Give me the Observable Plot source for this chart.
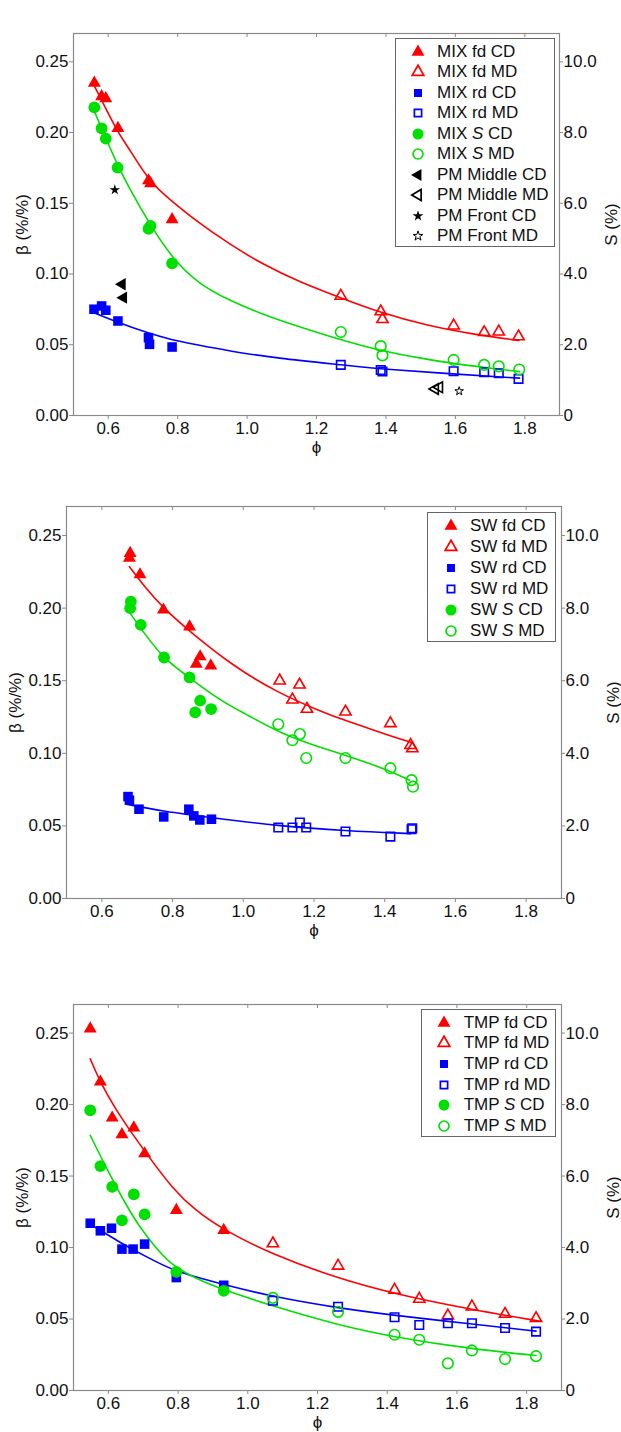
<!DOCTYPE html>
<html>
<head>
<meta charset="utf-8">
<script src="https://cdn.jsdelivr.net/npm/d3@7"></script>
<script src="https://cdn.jsdelivr.net/npm/@observablehq/plot@0.6"></script>
<style>
  html, body { margin: 0; padding: 0; background: #fff; }
  body { font-family: "Liberation Sans", Arial, sans-serif; }
  #root { position: relative; width: 621px; height: 1432px; overflow: hidden; }
  .panel { position: absolute; left: 0; }
  .legend { position: absolute; box-sizing: border-box; border: 1px solid #666; background: #fff; }
  .legend .row { position: absolute; left: 0; height: 20px; line-height: 20px; white-space: nowrap; font-size: 17px; color: #111; }
  .legend svg { position: absolute; top: 0; }
  .legend span { position: absolute; top: 0; }
</style>
</head>
<body>
<div id="root"></div>
<script>
// ---------- axis ticks ----------
const xTicks = [0.6, 0.8, 1.0, 1.2, 1.4, 1.6, 1.8];
const yTicks = [0, 0.05, 0.10, 0.15, 0.20, 0.25];

// ---------- Panel 1 : MIX  ([phi, beta] ; S series as [phi, S%]) ----------
const mixFdCD = [[0.560,0.235],[0.581,0.2255],[0.593,0.224],[0.628,0.203],[0.716,0.166],[0.722,0.164],[0.784,0.1385]];
const mixFdMD = [[1.270,0.0845],[1.385,0.0735],[1.390,0.068],[1.595,0.0635],[1.683,0.0588],[1.725,0.0592],[1.782,0.0558]];
const mixRdCD = [[0.559,0.0751],[0.581,0.0774],[0.593,0.0744],[0.628,0.0668],[0.716,0.055],[0.719,0.0503],[0.784,0.0484]];
const mixRdMD = [[1.270,0.0358],[1.385,0.0322],[1.390,0.0311],[1.595,0.0313],[1.683,0.0306],[1.725,0.0299],[1.782,0.0259]];
const mixSCD  = [[0.560,8.71],[0.581,8.12],[0.593,7.83],[0.627,7.01],[0.716,5.28],[0.722,5.36],[0.784,4.30]];
const mixSMD  = [[1.270,2.36],[1.385,1.96],[1.390,1.70],[1.595,1.57],[1.683,1.43],[1.725,1.39],[1.784,1.30]];
const pmMidCD   = [[0.640,0.0928],[0.644,0.0833]];
const pmMidMD   = [[1.542,0.0188],[1.554,0.0200]];
const pmFrontCD = [[0.619,0.1595]];
const pmFrontMD = [[1.611,0.0172]];
const mixFdFit = [[0.56,0.233],[0.593,0.217],[0.628,0.200],[0.662,0.188],[0.719,0.165],[0.781,0.152],[0.853,0.1376],[0.95,0.121],[1.044,0.107],[1.15,0.0945],[1.268,0.0833],[1.383,0.0727],[1.521,0.0633],[1.65,0.0575],[1.783,0.053]];
const mixRdFit = [[0.556,0.0729],[0.626,0.0659],[0.71,0.0586],[0.783,0.0534],[0.85,0.0502],[0.95,0.0455],[1.086,0.0405],[1.272,0.0358],[1.39,0.0327],[1.596,0.0294],[1.785,0.0264]];
const mixSFit  = [[0.56,8.6],[0.593,7.84],[0.627,7.08],[0.662,6.4],[0.719,5.42],[0.783,4.46],[0.86,3.72],[0.948,3.26],[1.04,2.88],[1.14,2.54],[1.268,2.14],[1.385,1.83],[1.5,1.62],[1.6,1.46],[1.7,1.34],[1.785,1.24]];

// ---------- Panel 2 : SW ----------
const swFdCD = [[0.678,0.2346],[0.680,0.2378],[0.708,0.2231],[0.774,0.1988],[0.848,0.1872],[0.867,0.1615],[0.878,0.1666],[0.908,0.1603]];
const swFdMD = [[1.103,0.150],[1.139,0.1369],[1.159,0.1472],[1.180,0.1305],[1.289,0.1286],[1.416,0.1206],[1.473,0.1056],[1.478,0.1033]];
const swRdCD = [[0.674,0.0702],[0.678,0.0677],[0.705,0.0615],[0.775,0.0562],[0.846,0.0615],[0.860,0.0569],[0.877,0.0541],[0.910,0.0546]];
const swRdMD = [[1.099,0.0489],[1.139,0.0489],[1.160,0.0523],[1.178,0.0489],[1.289,0.0461],[1.416,0.0426],[1.476,0.0477],[1.478,0.0484]];
const swSCD  = [[0.682,8.18],[0.680,8.00],[0.710,7.54],[0.776,6.64],[0.848,6.09],[0.878,5.45],[0.864,5.13],[0.909,5.22]];
const swSMD  = [[1.099,4.80],[1.139,4.36],[1.160,4.53],[1.178,3.87],[1.289,3.87],[1.416,3.59],[1.476,3.26],[1.480,3.08]];
const swFdFit = [[0.678,0.2286],[0.72,0.215],[0.774,0.200],[0.848,0.184],[0.972,0.160],[1.095,0.142],[1.218,0.129],[1.289,0.1225],[1.416,0.112],[1.475,0.1075]];
const swRdFit = [[0.669,0.065],[0.775,0.0599],[0.910,0.0557],[1.099,0.050],[1.289,0.0466],[1.473,0.0447]];
const swSFit  = [[0.680,7.86],[0.72,7.3],[0.776,6.6],[0.848,6.08],[0.937,5.44],[1.0,5.12],[1.097,4.6],[1.175,4.3],[1.285,3.96],[1.411,3.54],[1.47,3.26]];

// ---------- Panel 3 : TMP ----------
const tmpFdCD = [[0.548,0.2531],[0.577,0.2159],[0.611,0.1907],[0.639,0.1791],[0.673,0.1838],[0.704,0.1657],[0.795,0.1261],[0.931,0.1121]];
const tmpFdMD = [[1.072,0.1028],[1.259,0.0872],[1.421,0.0703],[1.492,0.064],[1.574,0.0523],[1.643,0.0586],[1.738,0.0535],[1.827,0.0505]];
const tmpRdCD = [[0.548,0.117],[0.577,0.1117],[0.609,0.1135],[0.639,0.0989],[0.671,0.0989],[0.704,0.1024],[0.795,0.079],[0.931,0.0736]];
const tmpRdMD = [[1.072,0.0628],[1.259,0.0586],[1.421,0.0512],[1.492,0.0458],[1.574,0.047],[1.643,0.047],[1.738,0.0437],[1.827,0.0412]];
const tmpSCD  = [[0.548,7.84],[0.577,6.28],[0.611,5.70],[0.639,4.76],[0.673,5.49],[0.704,4.93],[0.795,3.32],[0.931,2.79]];
const tmpSMD  = [[1.072,2.59],[1.259,2.20],[1.421,1.56],[1.492,1.42],[1.574,0.76],[1.643,1.12],[1.738,0.88],[1.827,0.96]];
const tmpFdFit = [[0.548,0.232],[0.577,0.2155],[0.62,0.197],[0.666,0.1805],[0.704,0.1675],[0.786,0.1405],[0.85,0.126],[0.929,0.1125],[1.072,0.095],[1.259,0.0784],[1.421,0.0675],[1.643,0.0565],[1.84,0.0484]];
const tmpRdFit = [[0.548,0.1163],[0.594,0.1095],[0.634,0.1035],[0.671,0.0985],[0.705,0.0942],[0.786,0.0835],[0.929,0.0742],[1.072,0.0656],[1.259,0.0577],[1.421,0.0525],[1.643,0.0465],[1.827,0.0415]];
const tmpSFit  = [[0.548,7.14],[0.594,6.23],[0.642,5.34],[0.69,4.56],[0.74,3.94],[0.786,3.48],[0.85,3.14],[0.929,2.82],[1.072,2.36],[1.259,1.83],[1.421,1.49],[1.643,1.16],[1.827,0.98]];

// ---------- styling ----------
const RED = "#ff0000", BLUE = "#0000ff", GREEN = "#00e000", BLACK = "#000000";
const AXIS = "#8a8a8a", TEXT = "#111111";
const FONT = "'Liberation Sans', Arial, sans-serif";
const S_PER_BETA = 40; // right axis: S (%) = 40 x beta

const SYM = {
  triUp:   {symbol: "triangle", r: 4.8, sw: 1.6},
  triLeft: {symbol: "triangle", r: 4.6, rotate: -90, sw: 1.6},
  square:  {symbol: "square",   r: 5.4, sw: 1.6},
  circle:  {symbol: "circle",   r: 5.9, sw: 1.6},
  star:    {symbol: "star",     r: 3.3, sw: 1.0}
};

function dots(data, shape, color, filled, isS) {
  const s = SYM[shape];
  const opts = {
    x: d => d[0],
    y: isS ? (d => d[1] / S_PER_BETA) : (d => d[1]),
    symbol: s.symbol,
    r: filled ? s.r : s.r - 0.6
  };
  if (s.rotate) opts.rotate = s.rotate;
  if (filled) { opts.fill = color; opts.stroke = "none"; }
  else { opts.fill = "none"; opts.stroke = color; opts.strokeWidth = s.sw; }
  return Plot.dot(data, opts);
}
function fit(data, color, isS) {
  return Plot.line(data, {
    x: d => d[0],
    y: isS ? (d => d[1] / S_PER_BETA) : (d => d[1]),
    stroke: color, strokeWidth: 1.6, curve: "basis"
  });
}

function makePanel(cfg) {
  const {top, height, marginTop, marginBottom, marginLeft, marginRight, lines, points} = cfg;
  const fh = height - marginTop - marginBottom;
  const svg = Plot.plot({
    width: 621, height, marginTop, marginBottom, marginLeft, marginRight,
    style: {fontFamily: FONT, fontSize: "17px", color: TEXT, background: "transparent", overflow: "visible"},
    x: {domain: [0.5, 1.9]},
    y: {domain: [0, 0.27]},
    marks: [
      Plot.tickX(xTicks, {x: d => d, stroke: AXIS, insetBottom: fh - 4}),
      Plot.axisX({ticks: xTicks, tickFormat: d3.format(".1f"), tickSize: 4, tickPadding: 2,
                  stroke: AXIS, fill: TEXT, label: "ϕ", labelAnchor: "center", labelArrow: "none", labelOffset: 37}),
      Plot.axisY({ticks: yTicks, tickFormat: d3.format(".2f"), tickSize: 4, tickPadding: 1,
                  stroke: AXIS, fill: TEXT, label: "β (%/%)", labelAnchor: "center", labelArrow: "none", labelOffset: 58}),
      Plot.axisY({anchor: "right", ticks: yTicks, tickSize: 3, tickPadding: 1,
                  tickFormat: d => d === 0 ? "0" : (d * S_PER_BETA).toFixed(1),
                  stroke: AXIS, fill: TEXT, label: "S (%)", labelAnchor: "center", labelArrow: "none", labelOffset: 57}),
      Plot.frame({stroke: AXIS, strokeWidth: 1.2}),
      ...lines,
      ...points
    ]
  });
  const wrap = document.createElement("div");
  wrap.className = "panel";
  wrap.style.top = top + "px";
  wrap.appendChild(svg);
  document.getElementById("root").appendChild(wrap);
}

// legend symbol paths (d3 symbol generator)
const LEG_SYM = {
  triUp:   {type: d3.symbolTriangle, size: 72, sw: 1.7},
  triLeft: {type: d3.symbolTriangle, size: 62, rotate: -90, sw: 1.7},
  square:  {type: d3.symbolSquare,   size: 64, sw: 1.7},
  circle:  {type: d3.symbolCircle,   size: 95, sw: 1.7},
  star:    {type: d3.symbolStar,     size: 36, sw: 1.0}
};
function makeLegend(box, items) {
  const div = document.createElement("div");
  div.className = "legend";
  Object.assign(div.style, {left: box.x + "px", top: box.y + "px", width: box.w + "px", height: box.h + "px"});
  items.forEach((it, i) => {
    const row = document.createElement("div");
    row.className = "row";
    row.style.top = (box.row0 + i * box.dy - 10) + "px";
    row.style.width = box.w + "px";
    const ls = LEG_SYM[it.shape];
    const ns = "http://www.w3.org/2000/svg";
    const s = document.createElementNS(ns, "svg");
    s.setAttribute("width", 20); s.setAttribute("height", 20);
    s.style.left = (box.symX - 10) + "px";
    const p = document.createElementNS(ns, "path");
    p.setAttribute("d", d3.symbol(ls.type, it.filled ? ls.size : ls.size * 0.82)());
    p.setAttribute("transform", `translate(10,10)${ls.rotate ? ` rotate(${ls.rotate})` : ""}`);
    if (it.filled) { p.setAttribute("fill", it.color); }
    else { p.setAttribute("fill", "none"); p.setAttribute("stroke", it.color); p.setAttribute("stroke-width", ls.sw); }
    s.appendChild(p);
    const t = document.createElement("span");
    t.style.left = box.textX + "px";
    t.innerHTML = it.label;
    row.appendChild(s); row.appendChild(t);
    div.appendChild(row);
  });
  document.getElementById("root").appendChild(div);
}

// ---------- Panel 1 ----------
makePanel({
  top: 0, height: 460, marginTop: 33, marginBottom: 45, marginLeft: 73, marginRight: 62,
  lines: [fit(mixFdFit, RED), fit(mixRdFit, BLUE), fit(mixSFit, GREEN, true)],
  points: [
    dots(mixFdCD, "triUp", RED, true), dots(mixFdMD, "triUp", RED, false),
    dots(mixRdCD, "square", BLUE, true), dots(mixRdMD, "square", BLUE, false),
    dots(mixSCD, "circle", GREEN, true, true), dots(mixSMD, "circle", GREEN, false, true),
    dots(pmMidCD, "triLeft", BLACK, true), dots(pmMidMD, "triLeft", BLACK, false),
    dots(pmFrontCD, "star", BLACK, true), dots(pmFrontMD, "star", BLACK, false)
  ]
});
makeLegend({x: 395, y: 38, w: 160, h: 209, row0: 12.5, dy: 20.5, symX: 21.5, textX: 41}, [
  {shape: "triUp", color: RED, filled: true, label: "MIX fd CD"},
  {shape: "triUp", color: RED, filled: false, label: "MIX fd MD"},
  {shape: "square", color: BLUE, filled: true, label: "MIX rd CD"},
  {shape: "square", color: BLUE, filled: false, label: "MIX rd MD"},
  {shape: "circle", color: GREEN, filled: true, label: "MIX <i>S</i> CD"},
  {shape: "circle", color: GREEN, filled: false, label: "MIX <i>S</i> MD"},
  {shape: "triLeft", color: BLACK, filled: true, label: "PM Middle CD"},
  {shape: "triLeft", color: BLACK, filled: false, label: "PM Middle MD"},
  {shape: "star", color: BLACK, filled: true, label: "PM Front CD"},
  {shape: "star", color: BLACK, filled: false, label: "PM Front MD"}
]);

// ---------- Panel 2 ----------
makePanel({
  top: 480, height: 463, marginTop: 26, marginBottom: 45, marginLeft: 66, marginRight: 60,
  lines: [fit(swFdFit, RED), fit(swRdFit, BLUE), fit(swSFit, GREEN, true)],
  points: [
    dots(swFdCD, "triUp", RED, true), dots(swFdMD, "triUp", RED, false),
    dots(swRdCD, "square", BLUE, true), dots(swRdMD, "square", BLUE, false),
    dots(swSCD, "circle", GREEN, true, true), dots(swSMD, "circle", GREEN, false, true)
  ]
});
makeLegend({x: 427, y: 512, w: 129, h: 130, row0: 12.5, dy: 21.1, symX: 22.5, textX: 42}, [
  {shape: "triUp", color: RED, filled: true, label: "SW fd CD"},
  {shape: "triUp", color: RED, filled: false, label: "SW fd MD"},
  {shape: "square", color: BLUE, filled: true, label: "SW rd CD"},
  {shape: "square", color: BLUE, filled: false, label: "SW rd MD"},
  {shape: "circle", color: GREEN, filled: true, label: "SW <i>S</i> CD"},
  {shape: "circle", color: GREEN, filled: false, label: "SW <i>S</i> MD"}
]);

// ---------- Panel 3 ----------
makePanel({
  top: 980, height: 452, marginTop: 24, marginBottom: 42, marginLeft: 73, marginRight: 60,
  lines: [fit(tmpFdFit, RED), fit(tmpRdFit, BLUE), fit(tmpSFit, GREEN, true)],
  points: [
    dots(tmpFdCD, "triUp", RED, true), dots(tmpFdMD, "triUp", RED, false),
    dots(tmpRdCD, "square", BLUE, true), dots(tmpRdMD, "square", BLUE, false),
    dots(tmpSCD, "circle", GREEN, true, true), dots(tmpSMD, "circle", GREEN, false, true)
  ]
});
makeLegend({x: 421, y: 1009, w: 135, h: 128, row0: 12.5, dy: 20.7, symX: 22.3, textX: 41.7}, [
  {shape: "triUp", color: RED, filled: true, label: "TMP fd CD"},
  {shape: "triUp", color: RED, filled: false, label: "TMP fd MD"},
  {shape: "square", color: BLUE, filled: true, label: "TMP rd CD"},
  {shape: "square", color: BLUE, filled: false, label: "TMP rd MD"},
  {shape: "circle", color: GREEN, filled: true, label: "TMP <i>S</i> CD"},
  {shape: "circle", color: GREEN, filled: false, label: "TMP <i>S</i> MD"}
]);
</script>
</body>
</html>
